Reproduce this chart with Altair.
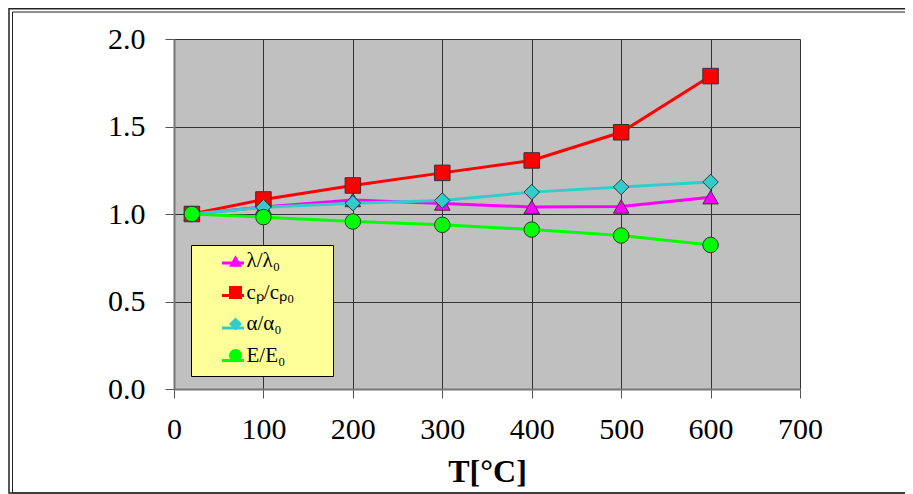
import altair as alt
import pandas as pd

# ---- data ----
T = [20, 100, 200, 300, 400, 500, 600]
series_names = ["λ/λ₀", "cₚ/cₚ₀", "α/α₀", "E/E₀"]
lam = [1.00, 1.04, 1.08, 1.06, 1.04, 1.043, 1.096]
cp = [1.00, 1.083, 1.163, 1.235, 1.306, 1.467, 1.788]
alpha = [1.00, 1.039, 1.062, 1.077, 1.125, 1.154, 1.183]
E = [1.00, 0.982, 0.957, 0.938, 0.911, 0.877, 0.823]
x_ticks = [0, 100, 200, 300, 400, 500, 600, 700]
y_ticks = [0.0, 0.5, 1.0, 1.5, 2.0]

colors = ["#FF00FF", "#FF0000", "#33CCCC", "#00FF00"]
shapes = ["triangle-up", "square", "diamond", "circle"]

rows = []
for name, vals in zip(series_names, [lam, cp, alpha, E]):
    for t, v in zip(T, vals):
        rows.append({"T": t, "v": v, "series": name})
df = pd.DataFrame(rows)

FONT = "Liberation Serif"

x_enc = alt.X("T:Q", scale=alt.Scale(domain=[0, 700], nice=False),
              axis=alt.Axis(values=x_ticks, format="d", title="T[°C]",
                            titleFont=FONT, titleFontSize=32, titleFontWeight="bold",
                            titleColor="black", titlePadding=12,
                            labelFont=FONT, labelFontSize=30, labelColor="black",
                            labelPadding=16, tickSize=9, tickColor="#555555",
                            domainColor="#777777", domainWidth=2,
                            grid=True, gridColor="#333333", gridWidth=1,
                            labelFlush=False))
y_enc = alt.Y("v:Q", scale=alt.Scale(domain=[0, 2], nice=False),
              axis=alt.Axis(values=y_ticks, format=".1f", title=None,
                            labelFont=FONT, labelFontSize=30, labelColor="black",
                            labelPadding=20, tickSize=9, tickColor="#555555",
                            domainColor="#777777", domainWidth=2,
                            grid=True, gridColor="#333333", gridWidth=1,
                            labelFlush=False))

common_leg = dict(orient="none", legendX=17, legendY=206, title=None,
                  labelFont=FONT, labelFontSize=21, labelColor="black",
                  padding=5.5, rowPadding=9.5)

# line part of the legend (drawn underneath, carries the yellow box; its labels are blank spacers)
lines = alt.Chart(df).transform_calculate(lkey="datum.series").mark_line(strokeWidth=3).encode(
    x=x_enc, y=y_enc,
    stroke=alt.Stroke("lkey:N", sort=series_names,
                      scale=alt.Scale(range=colors),
                      legend=alt.Legend(symbolType="stroke", symbolSize=484,
                                        symbolStrokeWidth=3, symbolOffset=24,
                                        labelOffset=6.5, labelOpacity=0,
                                        labelExpr="'" + "\u2800" * 5 + "'",
                                        fillColor="#FFFF99", strokeColor="black",
                                        **common_leg)),
    detail="series:N",
)

pt_leg = alt.Legend(symbolSize=170, symbolOffset=28.5, labelOffset=0.5,
                    symbolStrokeColor="#333333", symbolStrokeWidth=1,
                    **common_leg)
points = alt.Chart(df).mark_point(filled=True, size=240, opacity=1,
                                  stroke="#333333", strokeWidth=1).encode(
    x="T:Q", y="v:Q",
    fill=alt.Fill("series:N", scale=alt.Scale(domain=series_names, range=colors), legend=pt_leg),
    shape=alt.Shape("series:N", scale=alt.Scale(domain=series_names, range=shapes), legend=pt_leg),
)

frame_data = alt.Data(values=[{"k": 1}])
outer = alt.Chart(frame_data).mark_rect(fillOpacity=0, stroke="#222222", strokeWidth=1.5, clip=False).encode(
    x=alt.value(-165), x2=alt.value(760), y=alt.value(-30.25), y2=alt.value(454))
inner = alt.Chart(frame_data).mark_rect(fillOpacity=0, stroke="#222222", strokeWidth=1, clip=False).encode(
    x=alt.value(-161.5), x2=alt.value(760), y=alt.value(-27), y2=alt.value(454))

chart = alt.layer(lines, points, outer, inner).properties(
    width=626, height=350,
    autosize=alt.AutoSizeParams(type="none"),
    padding={"left": 166, "top": 31, "right": 105, "bottom": 105},
    background="white",
).configure_view(fill="#C0C0C0", stroke=None)

chart.save("out.html", embed_options={"renderer": "svg", "actions": False})
